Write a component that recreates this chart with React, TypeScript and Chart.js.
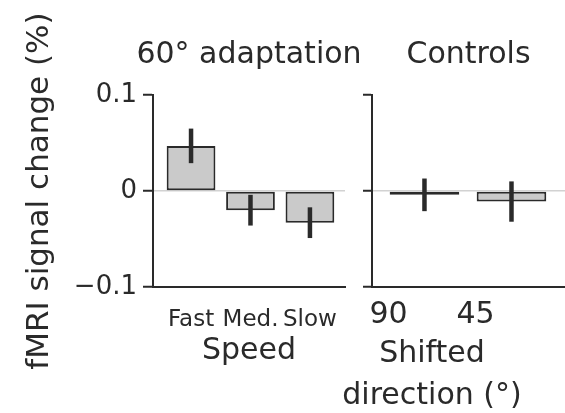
import React, { useEffect, useRef } from 'react';
import { Chart, registerables } from 'chart.js';

Chart.register(...registerables);

// ---- data ----
const speedCategories = ['Fast', 'Med.', 'Slow'];
const speedValues = [0.047, -0.02, -0.033];
const speedErrors = [0.018, 0.016, 0.016];

const controlCategories = ['90', '45'];
const controlValues = [-0.004, -0.011];
const controlErrors = [0.017, 0.021];

const yTickValues = [-0.1, 0, 0.1];

const leftTitle = '60° adaptation';
const rightTitle = 'Controls';
const yAxisTitle = 'fMRI signal change (%)';
const leftXTitle = 'Speed';
const rightXTitle = ['Shifted', 'direction (°)'];

// ---- style ----
const FONT = 'DejaVu Sans';
const INK = '#2a2a2a';
const BAR_FILL = '#cacaca';
const ZERO_LINE = '#d2d2d2';

const fmtY = (v: number) => {
  if (Math.abs(v) < 1e-9) return '0';
  return v < 0 ? '\u2212' + String(Math.abs(v)) : String(v);
};

function makeErrorBars(errors: number[]) {
  return {
    id: 'errorBars',
    afterDatasetsDraw(chart: any) {
      const meta = chart.getDatasetMeta(0);
      const ys = chart.scales.y;
      const ctx = chart.ctx;
      ctx.save();
      ctx.strokeStyle = INK;
      ctx.lineWidth = 4.5;
      meta.data.forEach((bar: any, i: number) => {
        const v = chart.data.datasets[0].data[i].y;
        const e = errors[i];
        ctx.beginPath();
        ctx.moveTo(bar.x, ys.getPixelForValue(v + e));
        ctx.lineTo(bar.x, ys.getPixelForValue(v - e));
        ctx.stroke();
      });
      ctx.restore();
    },
  };
}

// text items: x = 'center' (of the chart area) or offset from chartArea.left; y = baseline offset from chartArea.top
type Caption = { text: string; x: 'center' | number; y: number; size: number };

function makeCaptions(items: Caption[]) {
  return {
    id: 'captions',
    afterDraw(chart: any) {
      const { ctx, chartArea } = chart;
      ctx.save();
      ctx.fillStyle = INK;
      ctx.textAlign = 'center';
      ctx.textBaseline = 'alphabetic';
      items.forEach((it) => {
        ctx.font = `${it.size}px "${FONT}"`;
        const x = it.x === 'center' ? (chartArea.left + chartArea.right) / 2 : chartArea.left + it.x;
        ctx.fillText(it.text, x, chartArea.top + it.y);
      });
      ctx.restore();
    },
  };
}

function yGrid(tickLength: number) {
  return {
    drawOnChartArea: true,
    color: (c: any) => (c.tick && Math.abs(c.tick.value) < 1e-9 ? ZERO_LINE : 'rgba(0,0,0,0)'),
    lineWidth: 1.5,
    tickColor: INK,
    tickWidth: 2,
    tickLength,
  };
}

export default function App() {
  const leftRef = useRef<HTMLCanvasElement>(null);
  const rightRef = useRef<HTMLCanvasElement>(null);

  useEffect(() => {
    Chart.defaults.font.family = FONT;
    Chart.defaults.color = INK;

    const left = new Chart(leftRef.current!, {
      type: 'bar',
      data: {
        datasets: [
          {
            data: speedValues.map((y, i) => ({ x: i, y })),
            backgroundColor: BAR_FILL,
            borderColor: INK,
            borderWidth: 2,
            borderSkipped: false,
            barPercentage: 0.82,
            categoryPercentage: 1,
          },
        ],
      },
      options: {
        responsive: false,
        animation: false,
        layout: { padding: { left: 0, right: 30, top: 95, bottom: 0 } },
        plugins: {
          legend: { display: false },
          tooltip: { enabled: false },
          title: { display: false },
        },
        scales: {
          x: {
            type: 'linear',
            min: -0.64,
            max: 2.59,
            offset: false,
            afterBuildTicks: (s: any) => {
              s.ticks = speedCategories.map((_, i) => ({ value: i }));
            },
            afterFit: (s: any) => {
              s.height = 126;
            },
            grid: { display: false, offset: false },
            border: { display: true, color: INK, width: 2 },
            ticks: {
              autoSkip: false,
              maxRotation: 0,
              minRotation: 0,
              padding: 11,
              color: INK,
              font: { size: 23 },
              callback: (v: any) => speedCategories[Math.round(Number(v))],
            },
            title: {
              display: true,
              text: leftXTitle,
              color: INK,
              font: { size: 30 },
              padding: { top: 0, bottom: 44 },
            },
          },
          y: {
            min: -0.1,
            max: 0.1,
            afterBuildTicks: (s: any) => {
              s.ticks = yTickValues.map((v) => ({ value: v }));
            },
            afterFit: (s: any) => {
              s.width = 153;
            },
            grid: yGrid(10),
            border: { display: true, color: INK, width: 2 },
            ticks: { padding: 6, color: INK, font: { size: 26 }, callback: (v: any) => fmtY(Number(v)) },
            title: {
              display: true,
              text: yAxisTitle,
              color: INK,
              font: { size: 31 },
              padding: { top: 21, bottom: 0 },
            },
          },
        },
      } as any,
      plugins: [makeErrorBars(speedErrors), makeCaptions([{ text: leftTitle, x: 'center', y: -32, size: 30 }])],
    });

    const right = new Chart(rightRef.current!, {
      type: 'bar',
      data: {
        datasets: [
          {
            data: controlValues.map((y, i) => ({ x: i, y })),
            backgroundColor: BAR_FILL,
            borderColor: INK,
            borderWidth: 2,
            borderSkipped: false,
            barPercentage: 0.8,
            categoryPercentage: 1,
          },
        ],
      },
      options: {
        responsive: false,
        animation: false,
        layout: { padding: { left: 0, right: 0, top: 95, bottom: 0 } },
        plugins: {
          legend: { display: false },
          tooltip: { enabled: false },
          title: { display: false },
        },
        scales: {
          x: {
            type: 'linear',
            min: -0.603,
            max: 1.615,
            offset: false,
            afterBuildTicks: (s: any) => {
              s.ticks = controlCategories.map((_, i) => ({ value: i }));
            },
            afterFit: (s: any) => {
              s.height = 126;
            },
            grid: { display: false, offset: false },
            border: { display: true, color: INK, width: 2 },
            ticks: {
              autoSkip: false,
              maxRotation: 0,
              minRotation: 0,
              padding: 2,
              labelOffset: -36,
              color: INK,
              font: { size: 30 },
              callback: (v: any) => controlCategories[Math.round(Number(v))],
            },
          },
          y: {
            min: -0.1,
            max: 0.1,
            afterBuildTicks: (s: any) => {
              s.ticks = yTickValues.map((v) => ({ value: v }));
            },
            afterFit: (s: any) => {
              s.width = 42;
            },
            grid: yGrid(9),
            border: { display: true, color: INK, width: 2 },
            ticks: { display: false },
          },
        },
      } as any,
      plugins: [
        makeErrorBars(controlErrors),
        makeCaptions([
          { text: rightTitle, x: 'center', y: -32, size: 30 },
          { text: rightXTitle[0], x: 60, y: 267, size: 30 },
          { text: rightXTitle[1], x: 60, y: 309, size: 30 },
        ]),
      ],
    });

    return () => {
      left.destroy();
      right.destroy();
    };
  }, []);

  return (
    <div style={{ position: 'absolute', left: 0, top: 0, width: 565, height: 413, background: '#fff' }}>
      <canvas ref={leftRef} width={375} height={413} style={{ position: 'absolute', left: 0, top: 0 }} />
      <canvas ref={rightRef} width={235} height={413} style={{ position: 'absolute', left: 330, top: 0 }} />
    </div>
  );
}
